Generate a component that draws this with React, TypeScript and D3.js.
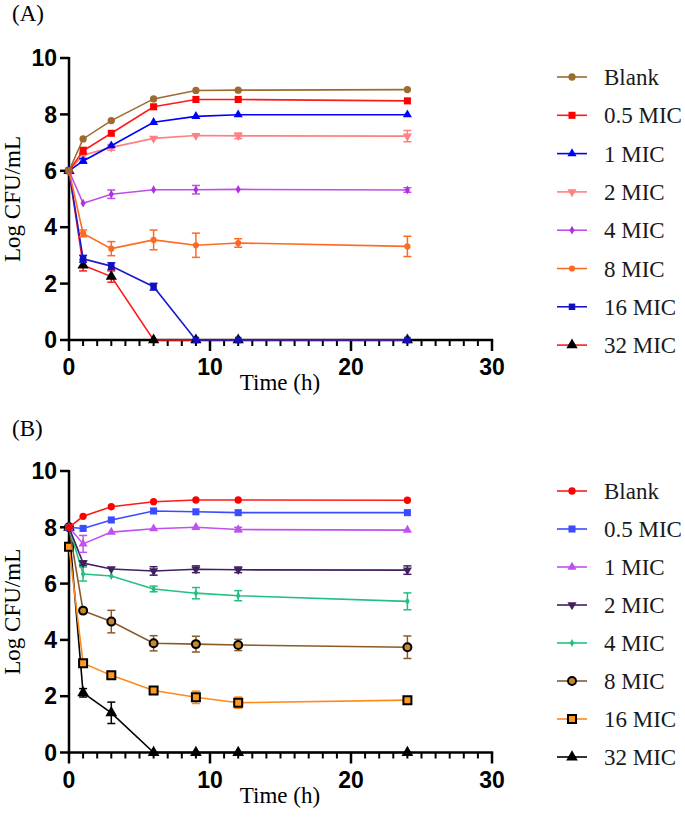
import React from "react";
import * as d3 from "d3";

const TIME = [0, 1, 3, 6, 9, 12, 24];
const LABELS = ["Blank", "0.5 MIC", "1 MIC", "2 MIC", "4 MIC", "8 MIC", "16 MIC", "32 MIC"];
const X_TICKS = [0, 10, 20, 30];
const Y_TICKS = [0, 2, 4, 6, 8, 10];

// Panel A means
const A_BLANK = [6.0, 7.13, 7.78, 8.55, 8.85, 8.86, 8.88];
const A_MIC05 = [6.0, 6.71, 7.33, 8.27, 8.53, 8.53, 8.48];
const A_MIC1 = [6.0, 6.35, 6.89, 7.72, 7.93, 7.99, 7.99];
const A_MIC2 = [6.0, 6.55, 6.83, 7.15, 7.25, 7.24, 7.23];
const A_MIC4 = [6.0, 4.85, 5.17, 5.33, 5.33, 5.34, 5.32];
const A_MIC8 = [6.0, 3.78, 3.24, 3.55, 3.36, 3.44, 3.32];
const A_MIC16 = [6.0, 2.88, 2.62, 1.89, 0, 0, 0];
const A_MIC32 = [6.0, 2.65, 2.25, 0, 0, 0, 0];
// Panel A SD
const A_BLANK_SD = [0, 0.05, 0.05, 0.05, 0.04, 0.04, 0.04];
const A_MIC05_SD = [0, 0.12, 0.06, 0.06, 0.05, 0.05, 0.05];
const A_MIC1_SD = [0, 0.08, 0.06, 0.05, 0.04, 0.05, 0.04];
const A_MIC2_SD = [0, 0.1, 0.1, 0.05, 0.05, 0.1, 0.2];
const A_MIC4_SD = [0, 0.05, 0.15, 0.04, 0.15, 0.04, 0.08];
const A_MIC8_SD = [0, 0.12, 0.25, 0.35, 0.43, 0.15, 0.36];
const A_MIC16_SD = [0, 0.12, 0.12, 0.12, 0, 0, 0];
const A_MIC32_SD = [0, 0.2, 0.2, 0, 0, 0, 0];

// Panel B means
const B_BLANK = [8.0, 8.39, 8.73, 8.91, 8.97, 8.97, 8.96];
const B_MIC05 = [8.0, 7.96, 8.26, 8.58, 8.55, 8.52, 8.52];
const B_MIC1 = [8.0, 7.41, 7.83, 7.95, 8.0, 7.92, 7.9];
const B_MIC2 = [8.0, 6.73, 6.52, 6.45, 6.51, 6.49, 6.48];
const B_MIC4 = [8.0, 6.34, 6.27, 5.81, 5.66, 5.57, 5.37];
const B_MIC8 = [8.0, 5.04, 4.65, 3.88, 3.85, 3.82, 3.74];
const B_MIC16 = [7.31, 3.17, 2.74, 2.2, 1.96, 1.77, 1.86];
const B_MIC32 = [8.0, 2.12, 1.41, 0, 0, 0, 0];
// Panel B SD
const B_BLANK_SD = [0, 0.04, 0.04, 0.04, 0.04, 0.04, 0.04];
const B_MIC05_SD = [0, 0.05, 0.05, 0.05, 0.05, 0.05, 0.05];
const B_MIC1_SD = [0, 0.3, 0.05, 0.05, 0.05, 0.08, 0.05];
const B_MIC2_SD = [0, 0.08, 0.05, 0.15, 0.12, 0.1, 0.15];
const B_MIC4_SD = [0, 0.25, 0.05, 0.1, 0.2, 0.18, 0.3];
const B_MIC8_SD = [0, 0.08, 0.4, 0.27, 0.28, 0.2, 0.4];
const B_MIC16_SD = [0, 0.08, 0.08, 0.06, 0.22, 0.2, 0.1];
const B_MIC32_SD = [0, 0.15, 0.38, 0, 0, 0, 0];

type Style = { line: string; marker: string; fill: string; stroke?: string; sw?: number; size: number; err: string };

const A_STYLES: Style[] = [
  { line: "#9C6B30", marker: "circle", fill: "#9C6B30", size: 42, err: "#9C6B30" },
  { line: "#FF1A1A", marker: "square", fill: "#FF0000", size: 50, err: "#FF1A1A" },
  { line: "#0000FF", marker: "triangle", fill: "#0000FF", size: 36, err: "#0000FF" },
  { line: "#FF8080", marker: "triangleDown", fill: "#FF8080", size: 36, err: "#FF8080" },
  { line: "#BF4FEA", marker: "diamond", fill: "#B030E0", size: 22, err: "#BF4FEA" },
  { line: "#FF6A22", marker: "circle", fill: "#FF6A22", size: 30, err: "#FF6A22" },
  { line: "#1A1ACC", marker: "square", fill: "#1010C0", size: 42, err: "#1A1ACC" },
  { line: "#FF1A1A", marker: "triangle", fill: "#000000", size: 55, err: "#FF1A1A" },
];
const B_STYLES: Style[] = [
  { line: "#FF1A1A", marker: "circle", fill: "#FF0000", size: 42, err: "#FF1A1A" },
  { line: "#3B4BFF", marker: "square", fill: "#3B4BFF", size: 50, err: "#3B4BFF" },
  { line: "#C050F0", marker: "triangle", fill: "#C050F0", size: 36, err: "#C050F0" },
  { line: "#40205F", marker: "triangleDown", fill: "#40205F", size: 36, err: "#40205F" },
  { line: "#22C080", marker: "diamond", fill: "#22C080", size: 18, err: "#22C080" },
  { line: "#8B5A2B", marker: "circle", fill: "#C8882A", stroke: "#000", sw: 2, size: 50, err: "#8B5A2B" },
  { line: "#FF8A1A", marker: "square", fill: "#FF9A20", stroke: "#000", sw: 2, size: 64, err: "#FF8A1A" },
  { line: "#000000", marker: "triangle", fill: "#000000", size: 60, err: "#000000" },
];

const A_MEANS = [A_BLANK, A_MIC05, A_MIC1, A_MIC2, A_MIC4, A_MIC8, A_MIC16, A_MIC32];
const A_SDS = [A_BLANK_SD, A_MIC05_SD, A_MIC1_SD, A_MIC2_SD, A_MIC4_SD, A_MIC8_SD, A_MIC16_SD, A_MIC32_SD];
const B_MEANS = [B_BLANK, B_MIC05, B_MIC1, B_MIC2, B_MIC4, B_MIC8, B_MIC16, B_MIC32];
const B_SDS = [B_BLANK_SD, B_MIC05_SD, B_MIC1_SD, B_MIC2_SD, B_MIC4_SD, B_MIC8_SD, B_MIC16_SD, B_MIC32_SD];

const SERIF = "'Liberation Serif', 'Times New Roman', serif";
const SANS = "'Liberation Sans', Arial, sans-serif";

function symbolPath(kind: string, size: number) {
  const t =
    kind === "circle" ? d3.symbolCircle : kind === "square" ? d3.symbolSquare : kind === "diamond" ? d3.symbolDiamond : d3.symbolTriangle;
  return d3.symbol().type(t).size(size)() as string;
}

function Marker({ x, y, s }: { x: number; y: number; s: Style }) {
  const rot = s.marker === "triangleDown" ? " rotate(180)" : "";
  return (
    <path
      d={symbolPath(s.marker, s.size)}
      transform={`translate(${x},${y})${rot}`}
      fill={s.fill}
      stroke={s.stroke || "none"}
      strokeWidth={s.sw || 0}
    />
  );
}

function Panel({
  top,
  bottom,
  means,
  sds,
  styles,
  label,
  labelY,
  legendY,
  legendStep,
}: {
  top: number;
  bottom: number;
  means: number[][];
  sds: number[][];
  styles: Style[];
  label: string;
  labelY: number;
  legendY: number;
  legendStep: number;
}) {
  const x = d3.scaleLinear().domain([0, 30]).range([69, 492]);
  const y = d3.scaleLinear().domain([0, 10]).range([bottom, top]);
  const minor = d3.range(0, 31).filter((v) => v % 10 !== 0);
  const line = d3
    .line<number>()
    .x((_, i) => x(TIME[i]))
    .y((d) => y(d));
  const order = d3.range(means.length).reverse();
  return (
    <g>
      <text x={12} y={labelY} fontFamily={SERIF} fontSize={23}>
        {label}
      </text>
      {/* axes */}
      <line x1={x(0)} x2={x(0)} y1={y(10) - 1} y2={y(0) + 1.2} stroke="#000" strokeWidth={2.5} />
      <line x1={x(0) - 1.2} x2={x(30) + 1.2} y1={y(0)} y2={y(0)} stroke="#000" strokeWidth={2.5} />
      {Y_TICKS.map((t) => (
        <g key={"yt" + t}>
          <line x1={x(0) - 9} x2={x(0)} y1={y(t)} y2={y(t)} stroke="#000" strokeWidth={2.5} />
          <text x={x(0) - 12} y={y(t)} dy="0.36em" textAnchor="end" fontFamily={SANS} fontWeight="bold" fontSize={23}>
            {t}
          </text>
        </g>
      ))}
      {X_TICKS.map((t) => (
        <g key={"xt" + t}>
          <line x1={x(t)} x2={x(t)} y1={y(0)} y2={y(0) + 11} stroke="#000" strokeWidth={2.5} />
          <text x={x(t)} y={y(0) + 35} textAnchor="middle" fontFamily={SANS} fontWeight="bold" fontSize={23}>
            {t}
          </text>
        </g>
      ))}
      {minor.map((t) => (
        <line key={"mt" + t} x1={x(t)} x2={x(t)} y1={y(0)} y2={y(0) + 6} stroke="#000" strokeWidth={2} />
      ))}
      <text
        transform={`translate(20,${(y(0) + y(10)) / 2}) rotate(-90)`}
        textAnchor="middle"
        fontFamily={SERIF}
        fontSize={23}
      >
        Log CFU/mL
      </text>
      <text x={280} y={y(0) + 50} textAnchor="middle" fontFamily={SERIF} fontSize={23}>
        Time (h)
      </text>
      {/* series */}
      {order.map((k) => {
        const s = styles[k];
        return (
          <g key={"s" + k}>
            <path d={line(means[k]) as string} fill="none" stroke={s.line} strokeWidth={1.6} />
            {means[k].map((m, i) =>
              sds[k][i] > 0.06 ? (
                <g key={"e" + i} stroke={s.err} strokeWidth={1.5}>
                  <line x1={x(TIME[i])} x2={x(TIME[i])} y1={y(m - sds[k][i])} y2={y(m + sds[k][i])} />
                  <line x1={x(TIME[i]) - 4} x2={x(TIME[i]) + 4} y1={y(m + sds[k][i])} y2={y(m + sds[k][i])} />
                  <line x1={x(TIME[i]) - 4} x2={x(TIME[i]) + 4} y1={y(m - sds[k][i])} y2={y(m - sds[k][i])} />
                </g>
              ) : null
            )}
            {means[k].map((m, i) => (
              <Marker key={"m" + i} x={x(TIME[i])} y={y(m)} s={s} />
            ))}
          </g>
        );
      })}
      {/* legend */}
      {LABELS.map((lab, k) => {
        const ly = legendY + k * legendStep;
        const s = styles[k];
        return (
          <g key={"l" + k}>
            <line x1={557} x2={587} y1={ly} y2={ly} stroke={s.line} strokeWidth={1.6} />
            <Marker x={572} y={ly} s={s} />
            <text x={604} y={ly} dy="0.35em" fontFamily={SERIF} fontSize={23} fill="#1a1a1a">
              {lab}
            </text>
          </g>
        );
      })}
    </g>
  );
}

export default function App() {
  return (
    <svg width={685} height={830} style={{ position: "absolute", left: 0, top: 0, background: "#fff" }}>
      <rect width={685} height={830} fill="#fff" />
      <Panel
        top={58}
        bottom={340}
        means={A_MEANS}
        sds={A_SDS}
        styles={A_STYLES}
        label="(A)"
        labelY={21}
        legendY={77}
        legendStep={38.3}
      />
      <Panel
        top={471}
        bottom={752.5}
        means={B_MEANS}
        sds={B_SDS}
        styles={B_STYLES}
        label="(B)"
        labelY={436}
        legendY={491}
        legendStep={38}
      />
    </svg>
  );
}
